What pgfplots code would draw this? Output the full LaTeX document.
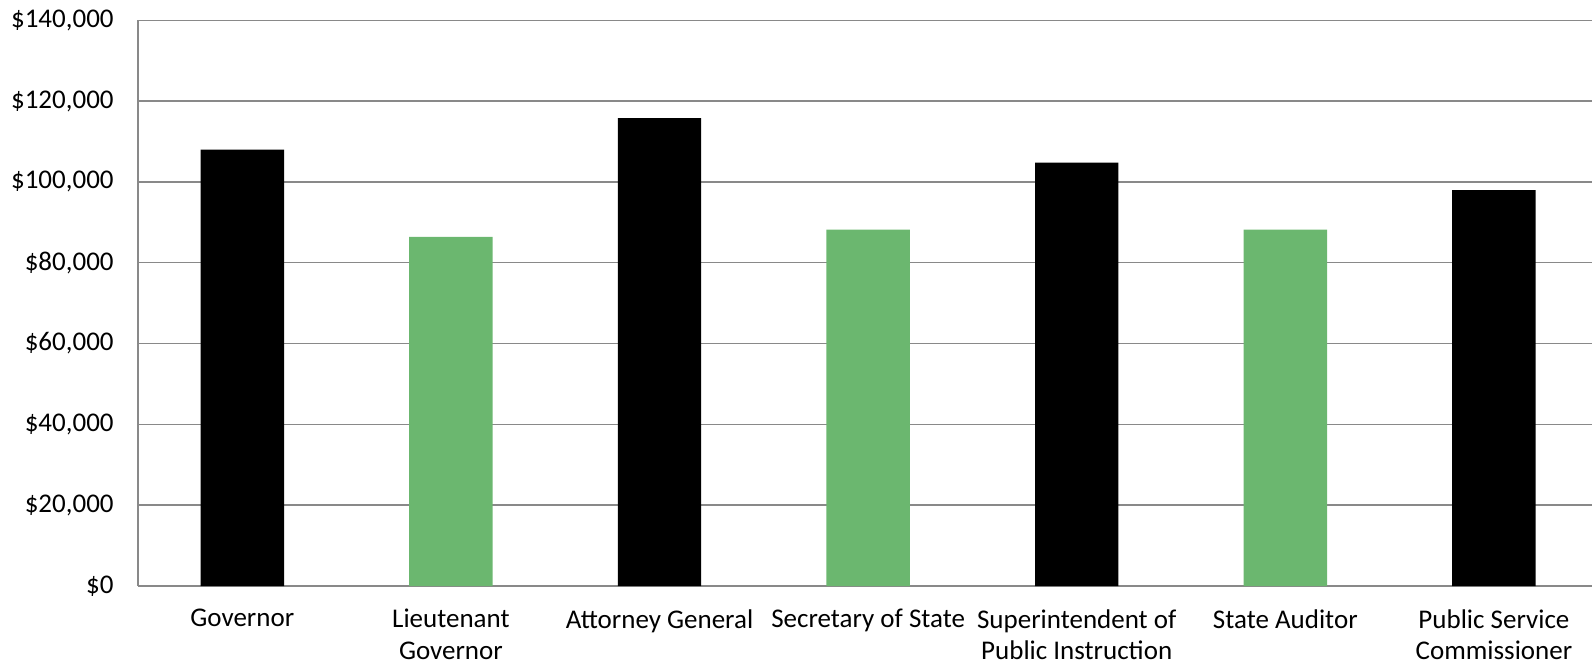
\documentclass[border=0pt]{standalone}
\usepackage{pgfplots}
\pgfplotsset{compat=1.18}
\usepackage{fontspec}
\setmainfont{Carlito}
\definecolor{bargreen}{RGB}{107,183,111}
\definecolor{gridgray}{RGB}{137,137,137}
\begin{document}
\begin{tikzpicture}
\begin{axis}[
  name=ax,
  scale only axis,
  width=727pt, height=282.85pt,
  xmin=-0.5, xmax=6.47,
  ymin=0, ymax=140000,
  scaled y ticks=false,
  axis x line*=bottom, axis y line*=left,
  axis line style={gridgray, line width=0.8pt},
  ymajorgrids,
  grid style={gridgray, line width=0.7pt},
  major tick length=0pt,
  ytick={0,20000,40000,60000,80000,100000,120000,140000},
  yticklabels={\$0,{\$20,000},{\$40,000},{\$60,000},{\$80,000},{\$100,000},{\$120,000},{\$140,000}},
  xtick={0,1,2,3,4,5,6},
  xticklabels={Governor,Lieutenant\\Governor,Attorney General,Secretary of State,Superintendent of\\Public Instruction,State Auditor,Public Service\\Commissioner},
  ticklabel style={font=\fontsize{13.5}{15.8}\selectfont},
  yticklabel style={inner sep=0pt, xshift=-12pt},
  xticklabel style={align=center, inner sep=0pt, yshift=-11.5pt},
  ybar, bar width=0.4, bar shift=0pt,
  clip=false,
]
\addplot[fill=black, draw=none] coordinates {(0,108000) (2,115800) (4,104800) (6,98000)};
\addplot[fill=bargreen, draw=none] coordinates {(1,86400) (3,88200) (5,88200)};
\end{axis}
\pgfresetboundingbox
\path[use as bounding box] ([xshift=-69pt, yshift=-39.5pt]ax.south west) rectangle ([yshift=10.15pt]ax.north east);
\end{tikzpicture}
\end{document}
